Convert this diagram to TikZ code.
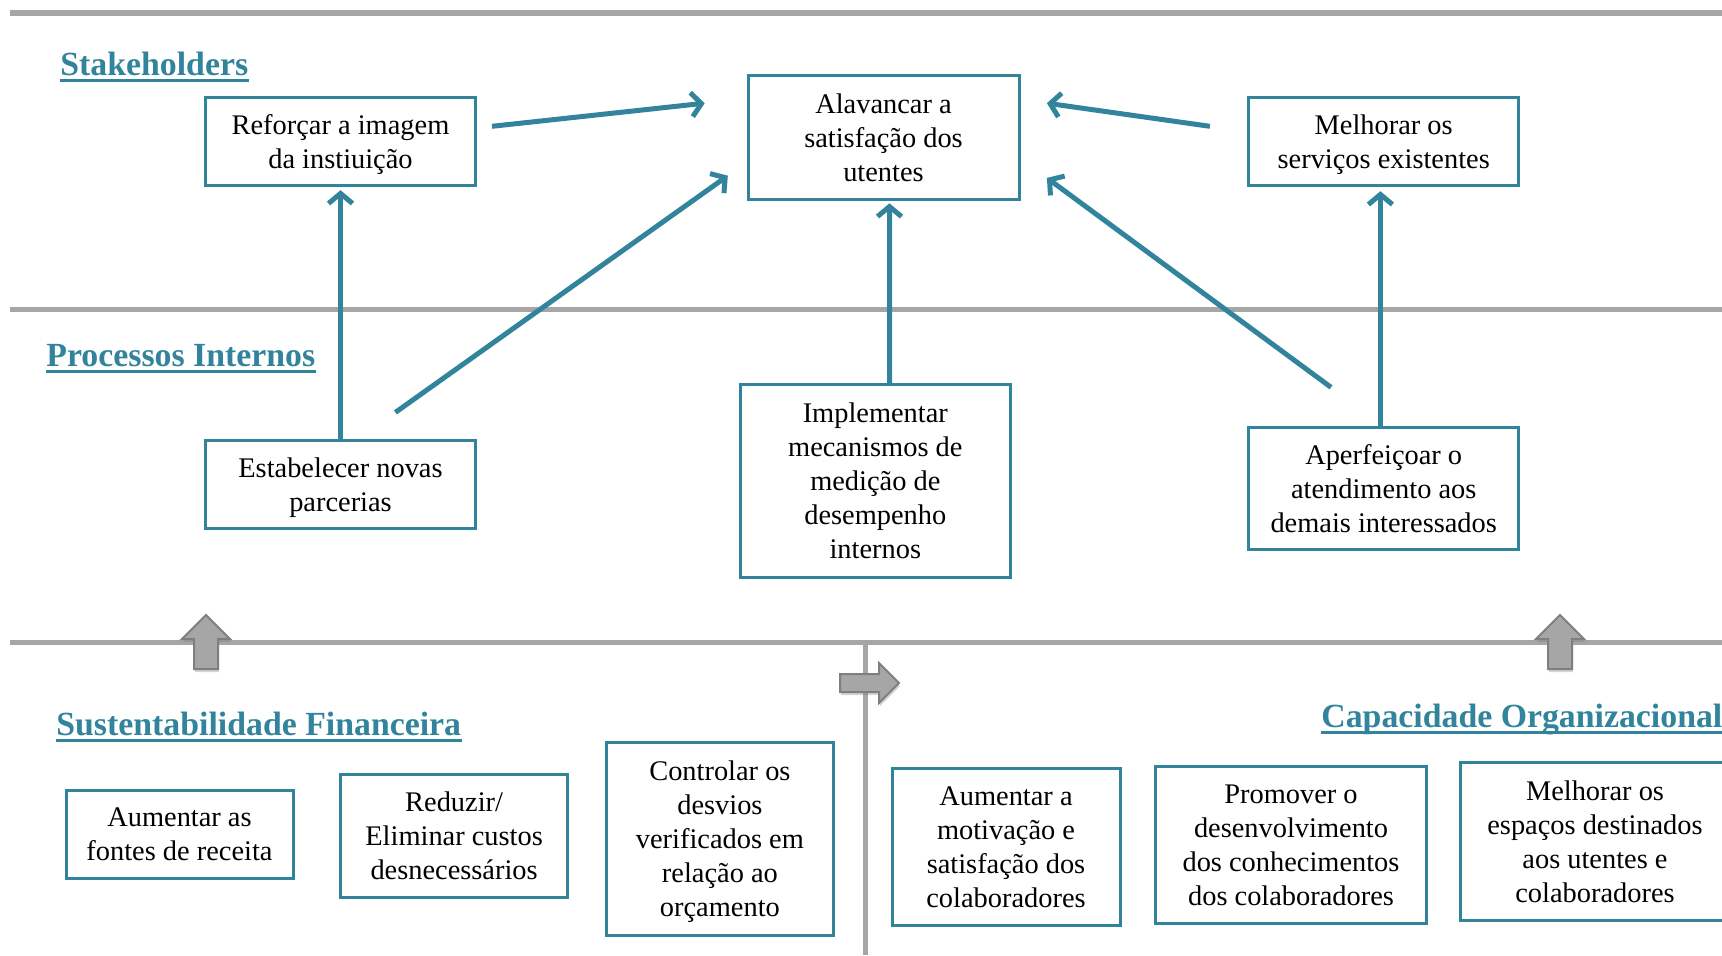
\documentclass[tikz,border=0pt]{standalone}
\usepackage{fontspec}
\setmainfont{Liberation Serif}
\usetikzlibrary{calc,arrows.meta,shadows}
\definecolor{tealc}{RGB}{49,132,155}
\definecolor{lineg}{RGB}{166,166,166}
\definecolor{arrfill}{RGB}{166,166,166}
\definecolor{arrdraw}{RGB}{127,127,127}
\begin{document}
\begin{tikzpicture}[x=0.5pt,y=-0.5pt,
  box/.style={draw=tealc, line width=1.5pt, fill=white, align=center, inner sep=0pt,
    text depth=0pt, font=\fontsize{14.2}{17}\selectfont},
  heading/.style={anchor=base west, inner sep=0pt, text=tealc,
    font=\bfseries\fontsize{16.9}{20}\selectfont},
  uline/.style={draw=tealc, line width=1.4pt},
  greyline/.style={draw=lineg, line width=2.75pt},
  tarrow/.style={draw=tealc, line width=2.5pt, line join=miter,
    -{Straight Barb[length=5pt,width=12pt]}},
  blockarrow/.style={fill=arrfill, draw=arrdraw, line width=1pt, line join=miter,
    drop shadow={opacity=0.35, shadow xshift=0.5pt, shadow yshift=-1.5pt}}
]
\useasboundingbox (0,0) rectangle (1722,955);

% grey separator lines
\draw[greyline] (10,13) -- (1722,13);
\draw[greyline] (10,309.7) -- (1722,309.7);
\draw[greyline] (10,642.4) -- (1722,642.4);
\draw[greyline] (865.4,642.4) -- (865.4,955);

% grey block arrows
\draw[blockarrow] (206,615) -- (230,639) -- (218,639) -- (218,669) -- (194,669) -- (194,639) -- (182,639) -- cycle;
\draw[blockarrow] (1560,615) -- (1584,639) -- (1572,639) -- (1572,669) -- (1548,669) -- (1548,639) -- (1536,639) -- cycle;
\draw[blockarrow] (840,674) -- (879,674) -- (879,663) -- (899,683) -- (879,703) -- (879,692) -- (840,692) -- cycle;

% headings
\node[heading] (hstake) at (60,75) {Stakeholders};
\node[heading] (hproc) at (46,366) {Processos Internos};
\node[heading] (hsust) at (56,735) {Sustentabilidade Financeira};
\node[heading] (hcap) at (1321,727) {Capacidade Organizacional};
\foreach \h in {hstake,hproc,hsust,hcap}
  \draw[uline] ([yshift=-2.6pt]\h.base west) -- ([yshift=-2.6pt]\h.base east);

% boxes
\node[box, minimum width=135pt, minimum height=44pt] (ref) at (340.5,141.7) {Reforçar a imagem\\da instiuição};
\node[box, minimum width=135.5pt, minimum height=62pt] (alav) at (883.5,137.8) {Alavancar a\\satisfação dos\\utentes};
\node[box, minimum width=135pt, minimum height=44pt] (melh) at (1383.7,141.7) {Melhorar os\\serviços existentes};
\node[box, minimum width=135pt, minimum height=44pt] (estab) at (340.5,484.3) {Estabelecer novas\\parcerias};
\node[box, minimum width=135pt, minimum height=96.5pt] (impl) at (875.3,481) {Implementar\\mecanismos de\\medição de\\desempenho\\internos};
\node[box, minimum width=135pt, minimum height=61pt] (aperf) at (1383.7,488.2) {Aperfeiçoar o\\atendimento aos\\demais interessados};
\node[box, minimum width=113.5pt, minimum height=44pt] (aum) at (179.5,834.6) {Aumentar as\\fontes de receita};
\node[box, minimum width=113.5pt, minimum height=61.5pt] (red) at (454.1,835.7) {Reduzir/\\Eliminar custos\\desnecessários};
\node[box, minimum width=113.5pt, minimum height=96.5pt] (ctrl) at (719.9,839) {Controlar os\\desvios\\verificados em\\relação ao\\orçamento};
\node[box, minimum width=114pt, minimum height=78.5pt] (motiv) at (1006,847.3) {Aumentar a\\motivação e\\satisfação dos\\colaboradores};
\node[box, minimum width=135.5pt, minimum height=78.5pt] (prom) at (1291,845) {Promover o\\desenvolvimento\\dos conhecimentos\\dos colaboradores};
\node[box, minimum width=135pt, minimum height=79pt] (esp) at (1595,841.2) {Melhorar os\\espaços destinados\\aos utentes e\\colaboradores};

% teal connectors
\draw[tarrow] ($(ref.east)+(15,-15.4)$) -- ($(alav.west)+(-41.8,-34.6)$);
\draw[tarrow] ($(estab.north)+(54.9,-26.4)$) -- ($(alav.west)+(-18.7,37.9)$);
\draw[tarrow] (estab.north) -- ($(ref.south)+(0,3)$);
\draw[tarrow] ($(impl.north)+(14.2,0)$) -- ($(alav.south)+(6,2)$);
\draw[tarrow] ($(melh.west)+(-37.3,-15.4)$) -- ($(alav.east)+(26.4,-34.6)$);
\draw[tarrow] ($(aperf.north)+(-52.7,-38.4)$) -- ($(alav.east)+(26.4,40.1)$);
\draw[tarrow] ($(aperf.north)+(-3.3,0)$) -- ($(melh.south)+(-3.3,4)$);
\end{tikzpicture}
\end{document}
